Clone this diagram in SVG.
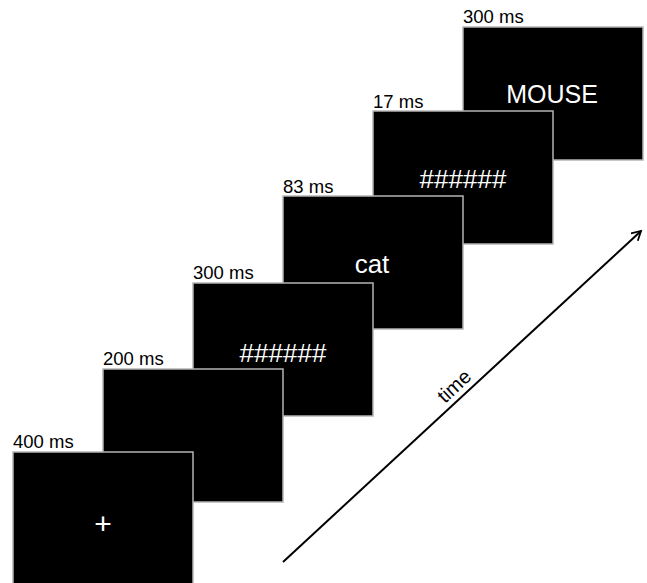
<svg xmlns="http://www.w3.org/2000/svg" width="647" height="583" viewBox="0 0 647 583">
<defs>
<style>
.scr{fill:#000;stroke:#b4b4b4;stroke-width:1.5}
.lbl{font-family:"Liberation Sans",Arial,sans-serif;font-size:18.5px;fill:#000}
.stim{font-family:"Liberation Sans",Arial,sans-serif;font-size:26px;fill:#fff;text-anchor:middle}
</style>
<marker id="ah" viewBox="0 0 12 12" refX="10" refY="6" markerWidth="12" markerHeight="12" markerUnits="userSpaceOnUse" orient="auto">
<path d="M1,1 L10,6 L1,11" fill="none" stroke="#000" stroke-width="1.8"/>
</marker>
</defs>
<rect width="647" height="583" fill="#fff"/>
<g id="screen6">
<rect class="scr" x="463" y="27" width="180" height="133"/>
<text class="lbl" x="463" y="23">300 ms</text>
<text class="stim" x="552" y="103" style="font-size:25px">MOUSE</text>
</g>
<g id="screen5">
<rect class="scr" x="373" y="111" width="180" height="133"/>
<text class="lbl" x="373" y="108">17 ms</text>
<text class="stim" x="463" y="188">######</text>
</g>
<g id="screen4">
<rect class="scr" x="283" y="196" width="180" height="133"/>
<text class="lbl" x="283" y="193">83 ms</text>
<text class="stim" x="372" y="273">cat</text>
</g>
<g id="screen3">
<rect class="scr" x="193" y="283" width="180" height="133"/>
<text class="lbl" x="193" y="279">300 ms</text>
<text class="stim" x="283" y="362">######</text>
</g>
<g id="screen2">
<rect class="scr" x="103" y="369" width="180" height="133"/>
<text class="lbl" x="103" y="365">200 ms</text>
</g>
<g id="screen1">
<rect class="scr" x="13" y="452" width="180" height="133"/>
<text class="lbl" x="13" y="448">400 ms</text>
<text class="stim" x="103" y="534" style="font-size:30px">+</text>
</g>
<g id="connectors">
<line x1="283" y1="562" x2="641" y2="231" stroke="#000" stroke-width="2" marker-end="url(#ah)"/>
<text class="lbl" transform="translate(454,386) rotate(-42.8)" x="0" y="7" text-anchor="middle" style="font-size:20px">time</text>
</g>
</svg>
